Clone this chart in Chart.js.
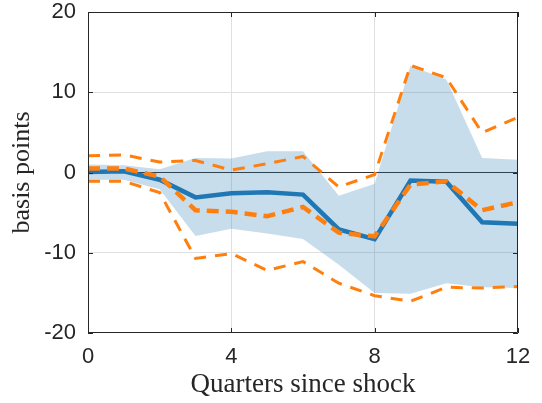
<!DOCTYPE html>
<html><head><meta charset="utf-8">
<script src="https://cdn.jsdelivr.net/npm/chart.js@4.4.1/dist/chart.umd.min.js"></script>
<style>html,body{margin:0;padding:0;background:#fff}</style>
</head><body>
<canvas id="c" width="542" height="403"></canvas>
<script>
// ---- data ----
const quarters  = [0, 1, 2, 3, 4, 5, 6, 7, 8, 9, 10, 11, 12];
const median    = [0.05, 0.15, -0.9, -3.1, -2.6, -2.45, -2.75, -7.1, -8.3, -1.0, -1.15, -6.2, -6.4];
const bandUpper = [1.0, 0.9, 0.4, 1.8, 1.75, 2.65, 2.65, -2.9, -1.4, 13.3, 11.6, 1.8, 1.6];
const bandLower = [-0.9, -0.9, -2.1, -7.9, -7.0, -7.6, -8.3, -11.5, -15.0, -15.1, -13.8, -14.3, -14.4];
const altMid    = [0.5, 0.5, -0.5, -4.7, -4.9, -5.45, -4.3, -7.5, -7.95, -1.5, -1.1, -4.7, -3.7];
const altUpper  = [2.1, 2.2, 1.3, 1.5, 0.3, 1.1, 2.0, -1.8, -0.25, 13.35, 11.8, 4.95, 6.9];
const altLower  = [-1.1, -1.1, -2.5, -10.7, -10.1, -12.2, -11.1, -13.8, -15.35, -16.05, -14.3, -14.4, -14.2];
const xTicks    = [0, 4, 8, 12];
const yTicks    = [-20, -10, 0, 10, 20];

const pts = arr => quarters.map((q, i) => ({x: q, y: arr[i]}));
const AX = '#262626';
const BLUE = '#1f77b4';
const ORANGE = '#ff7f0e';

const boxPlugin = {
  id: 'box',
  afterDatasetsDraw(chart) {
    const {ctx, chartArea: a, scales: {x, y}} = chart;
    ctx.save();
    ctx.strokeStyle = AX;
    ctx.lineWidth = 1;
    ctx.beginPath();
    ctx.rect(a.left + 0.5, a.top + 0.5, a.right - a.left - 1, a.bottom - a.top - 1);
    const L = 5;
    xTicks.forEach(v => {
      const px = Math.round(x.getPixelForValue(v)) + 0.5;
      ctx.moveTo(px, a.bottom); ctx.lineTo(px, a.bottom - L);
      ctx.moveTo(px, a.top); ctx.lineTo(px, a.top + L);
    });
    yTicks.forEach(v => {
      const py = Math.round(y.getPixelForValue(v)) + 0.5;
      ctx.moveTo(a.left, py); ctx.lineTo(a.left + L, py);
      ctx.moveTo(a.right, py); ctx.lineTo(a.right - L, py);
    });
    ctx.stroke();
    ctx.restore();
  }
};

const noPad = s => { s.paddingTop = 0; s.paddingBottom = 0; s.paddingLeft = 0; s.paddingRight = 0; };

new Chart(document.getElementById('c'), {
  type: 'line',
  data: {
    datasets: [
      {label: 'band upper', data: pts(bandUpper), borderWidth: 0, borderColor: 'rgba(0,0,0,0)',
       backgroundColor: 'rgba(31,119,180,0.25)', fill: '+1', pointRadius: 0, order: 3, tension: 0},
      {label: 'band lower', data: pts(bandLower), borderWidth: 0, borderColor: 'rgba(0,0,0,0)',
       fill: false, pointRadius: 0, order: 3, tension: 0},
      {label: 'alt upper', data: pts(altUpper), borderColor: ORANGE, borderWidth: 3,
       borderDash: [12, 9], fill: false, pointRadius: 0, order: 2, tension: 0},
      {label: 'alt lower', data: pts(altLower), borderColor: ORANGE, borderWidth: 3,
       borderDash: [12, 9], fill: false, pointRadius: 0, order: 2, tension: 0},
      {label: 'median', data: pts(median), borderColor: BLUE, borderWidth: 4.5,
       fill: false, pointRadius: 0, order: 1, tension: 0},
      {label: 'alt median', data: pts(altMid), borderColor: ORANGE, borderWidth: 4.5,
       borderDash: [12, 7], fill: false, pointRadius: 0, order: 0, tension: 0}
    ]
  },
  options: {
    responsive: false,
    animation: false,
    devicePixelRatio: 1,
    layout: {padding: {top: 12, right: 24, left: 0, bottom: 0}},
    plugins: {legend: {display: false}, tooltip: {enabled: false}},
    scales: {
      x: {
        type: 'linear', min: 0, max: 12,
        afterBuildTicks(s) { s.ticks = xTicks.map(v => ({value: v})); },
        ticks: {font: {family: 'Liberation Sans', size: 22}, color: AX, padding: 11, maxRotation: 0,
                autoSkip: false},
        grid: {drawTicks: false, lineWidth: 1,
               color: c => (c.tick && (c.tick.value === 4 || c.tick.value === 8)) ? '#e0e0e0' : 'rgba(0,0,0,0)'},
        border: {display: false},
        title: {display: true, text: 'Quarters since shock', color: AX,
                font: {family: 'Liberation Serif', size: 27}, padding: {top: 0, bottom: 2}},
        afterFit(s) { s.height = 70; noPad(s); }
      },
      y: {
        type: 'linear', min: -20, max: 20,
        afterBuildTicks(s) { s.ticks = yTicks.map(v => ({value: v})); },
        ticks: {font: {family: 'Liberation Sans', size: 22}, color: AX, padding: 12},
        grid: {drawTicks: false, lineWidth: 1,
               color: c => {
                 if (!c.tick) return 'rgba(0,0,0,0)';
                 if (c.tick.value === 0) return '#333333';
                 if (c.tick.value === 10 || c.tick.value === -10) return '#e0e0e0';
                 return 'rgba(0,0,0,0)';
               }},
        border: {display: false},
        title: {display: true, text: 'basis points', color: AX,
                font: {family: 'Liberation Serif', size: 26}, padding: {top: 7, bottom: 0}},
        afterFit(s) { s.width = 88; noPad(s); }
      }
    }
  },
  plugins: [boxPlugin]
});
</script>
</body></html>
